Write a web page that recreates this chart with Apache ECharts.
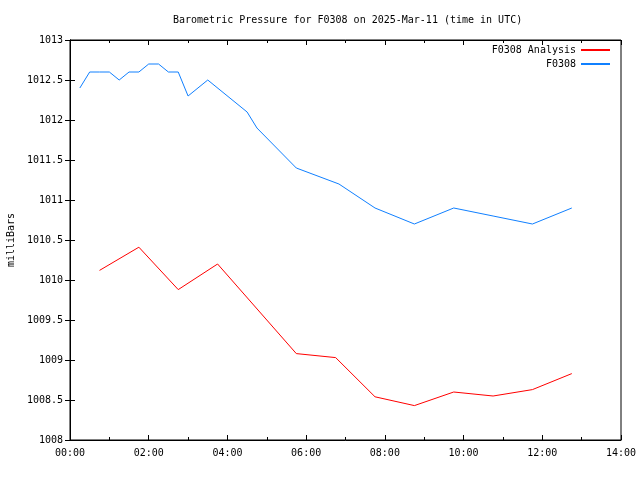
<!DOCTYPE html>
<html>
<head>
<meta charset="utf-8">
<script src="https://cdn.jsdelivr.net/npm/echarts@6/dist/echarts.min.js"></script>
<style>html,body{margin:0;padding:0;background:#fff}#c{width:640px;height:480px}</style>
</head>
<body>
<div id="c"></div>
<script>
// times in minutes after 00:00 UTC
var obsTimes = [15,30,45,60,75,90,105,120,135,150,165,180,210,270,285,345,410,465,525,585,645,705,765];
var obsValues = [1012.4,1012.6,1012.6,1012.6,1012.5,1012.6,1012.6,1012.7,1012.7,1012.6,1012.6,1012.3,1012.5,1012.1,1011.9,1011.4,1011.2,1010.9,1010.7,1010.9,1010.8,1010.7,1010.9];
var anaTimes = [45,105,165,225,345,405,465,525,585,645,705,765];
var anaValues = [1010.12,1010.41,1009.88,1010.20,1009.08,1009.03,1008.54,1008.43,1008.60,1008.55,1008.63,1008.83];
var titleText = 'Barometric Pressure for F0308 on 2025-Mar-11 (time in UTC)';
var seriesNames = ['F0308 Analysis', 'F0308'];

function pairs(t, v) { return t.map(function (x, i) { return [x, v[i]]; }); }
function hhmm(m) { var h = Math.floor(m / 60), mm = m % 60; return (h < 10 ? '0' : '') + h + ':' + (mm < 10 ? '0' : '') + mm; }
function plain(v) { return String(Math.round(v * 10) / 10); }

var FONT = 'DejaVu Sans Mono';
var chart = echarts.init(document.getElementById('c'), null, { renderer: 'canvas' });
var xCommon = { type: 'value', min: 0, max: 840, interval: 120,
  axisLine: { show: true, lineStyle: { color: '#000', width: 1 } },
  axisTick: { show: true, inside: true, length: 5, lineStyle: { color: '#000', width: 1 } },
  minorTick: { show: true, splitNumber: 2, length: 3, lineStyle: { color: '#000', width: 1 } },
  splitLine: { show: false } };
var yCommon = { type: 'value', min: 1008, max: 1013, interval: 0.5,
  axisLine: { show: true, lineStyle: { color: '#000', width: 1 } },
  axisTick: { show: true, inside: true, length: 5, lineStyle: { color: '#000', width: 1 } },
  splitLine: { show: false } };
chart.setOption({
  animation: false,
  backgroundColor: '#fff',
  title: { text: titleText, left: 168, top: 10,
    textStyle: { fontFamily: FONT, fontSize: 10, fontWeight: 'normal', color: '#000' } },
  legend: { orient: 'vertical', right: 25, top: 40, align: 'right', itemGap: 4,
    itemWidth: 29, itemHeight: 2, icon: 'rect',
    textStyle: { fontFamily: FONT, fontSize: 10, color: '#000' },
    data: seriesNames },
  grid: { left: 70, right: 19, top: 40, bottom: 40, outerBoundsMode: 'none', containLabel: false,
    show: true, borderColor: '#000', borderWidth: 1 },
  xAxis: [
    Object.assign({}, xCommon, { position: 'bottom',
      axisLabel: { margin: 8, fontFamily: FONT, fontSize: 10, color: '#000', formatter: hhmm } }),
    Object.assign({}, xCommon, { position: 'top', axisLabel: { show: false } })
  ],
  yAxis: [
    Object.assign({}, yCommon, { position: 'left', name: 'milliBars', nameLocation: 'middle', nameGap: 47,
      nameTextStyle: { fontFamily: FONT, fontSize: 10, color: '#000' },
      axisLabel: { margin: 7, fontFamily: FONT, fontSize: 10, color: '#000', formatter: plain } }),
    Object.assign({}, yCommon, { position: 'right', axisLabel: { show: false } })
  ],
  series: [
    { name: seriesNames[0], type: 'line', data: pairs(anaTimes, anaValues), showSymbol: false, symbol: 'none',
      lineStyle: { color: '#ff0000', width: 1 }, itemStyle: { color: '#ff0000' } },
    { name: seriesNames[1], type: 'line', data: pairs(obsTimes, obsValues), showSymbol: false, symbol: 'none',
      lineStyle: { color: '#1080ff', width: 1 }, itemStyle: { color: '#1080ff' } }
  ]
});
</script>
</body>
</html>
